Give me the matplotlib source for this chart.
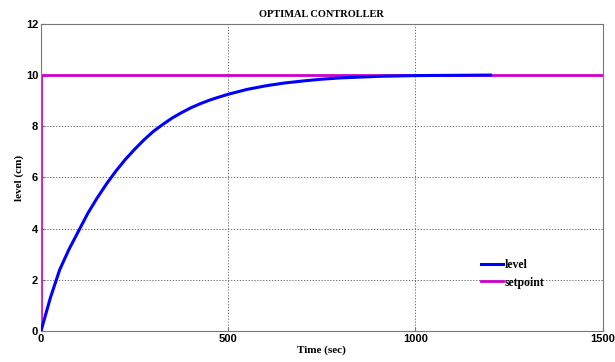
import matplotlib
matplotlib.use("Agg")
import matplotlib.pyplot as plt

# Data
time_level = [0, 25, 50, 75, 100, 125, 150, 175, 200, 225, 250, 275, 300, 325, 350, 375,
              400, 425, 450, 475, 500, 550, 600, 650, 700, 750, 800, 900, 1000, 1100, 1200]
level = [0, 1.3, 2.4, 3.2, 3.9, 4.6, 5.2, 5.75, 6.25, 6.7, 7.1, 7.47, 7.8, 8.07, 8.32, 8.53,
         8.72, 8.88, 9.02, 9.14, 9.25, 9.44, 9.58, 9.69, 9.77, 9.84, 9.89, 9.95, 9.98, 9.99, 10.0]
time_sp = [0, 0, 1500]
setpoint = [0, 10, 10]

xticks = [0, 500, 1000, 1500]
yticks = [0, 2, 4, 6, 8, 10, 12]

fig = plt.figure(figsize=(6.15, 3.62), dpi=100)
ax = fig.add_axes([0.0667, 0.0856, 0.9133, 0.8484])

ax.plot(time_sp, setpoint, color="#CC00CC", lw=2, label="setpoint", zorder=2)
ax.plot(time_level, level, color="#0000FF", lw=2.2, label="level", zorder=3)

ax.set_xlim(0, 1500)
ax.set_ylim(0, 12)
ax.set_xticks(xticks)
ax.set_yticks(yticks)
ax.grid(True, color="#555555", ls=(0, (1.5, 2)), lw=0.6)
for s in ax.spines.values():
    s.set_color("#777777")
ax.tick_params(direction="in", length=3, colors="#777777", labelcolor="black", pad=2)
for lab in ax.get_xticklabels() + ax.get_yticklabels():
    lab.set_fontfamily("Liberation Sans")
    lab.set_fontweight("bold")
    lab.set_fontsize(8)

ax.set_title("OPTIMAL CONTROLLER", family="Liberation Serif", weight="bold", fontsize=7.5, pad=5)
ax.set_xlabel("Time (sec)", family="Liberation Serif", weight="bold", fontsize=8, labelpad=1)
ax.set_ylabel("level (cm)", family="Liberation Serif", weight="bold", fontsize=8, labelpad=1)

h, l = ax.get_legend_handles_labels()
leg = ax.legend([h[1], h[0]], [l[1], l[0]], loc="center left", bbox_to_anchor=(0.768, 0.186),
                frameon=False, prop={"family": "Liberation Serif", "weight": "bold", "size": 8.5},
                handlelength=1.9, handletextpad=0.1, labelspacing=0.45, borderpad=0.2)

fig.savefig("out.png", dpi=100)
